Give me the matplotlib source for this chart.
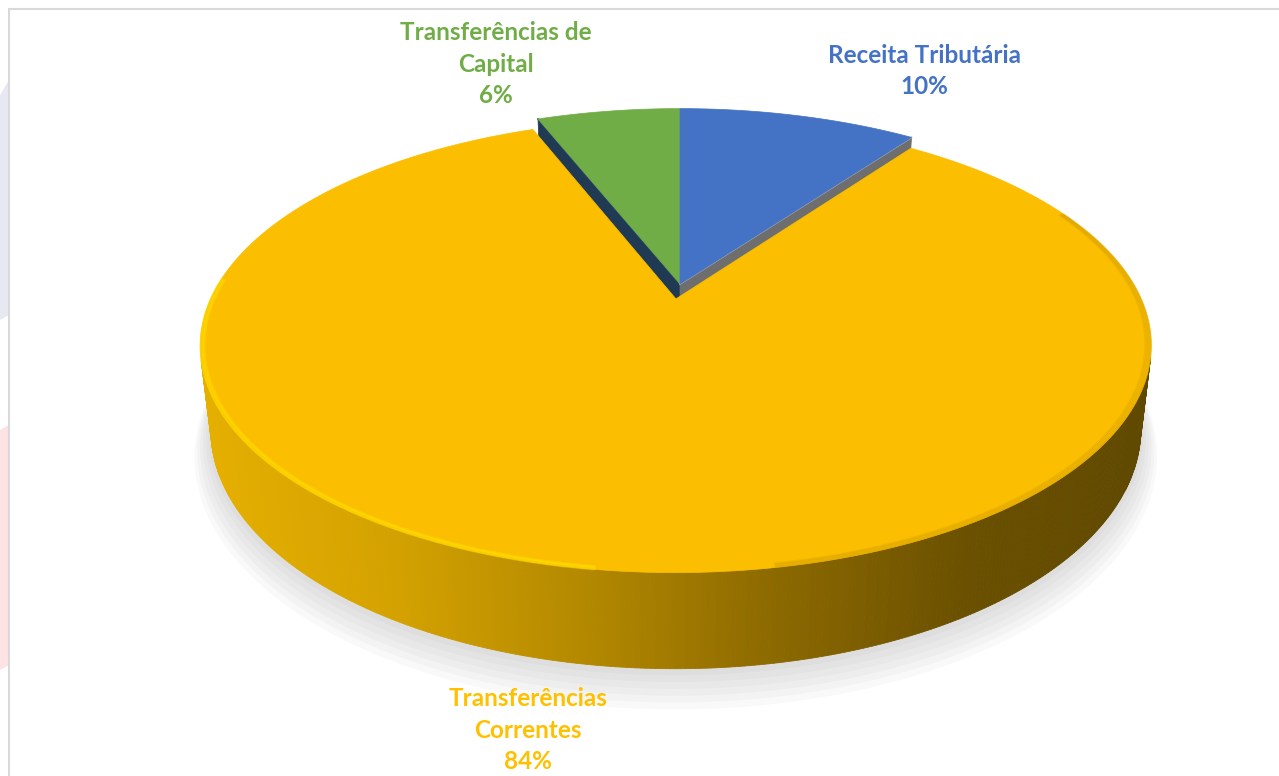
import numpy as np
import matplotlib
matplotlib.use("Agg")
import matplotlib.pyplot as plt
from matplotlib.patches import Polygon, Rectangle
from matplotlib.colors import LinearSegmentedColormap

# dados do gráfico
categorias = ["Receita Tributária", "Transferências Correntes", "Transferências de Capital"]
rotulos = ["Receita Tributária\n10%", "Transferências\nCorrentes\n84%", "Transferências de\nCapital\n6%"]
valores = [10, 84, 6]
cores_topo = ["#4472C4", "#FBBE00", "#70AD47"]
cores_lado = ["#6E6E6E", "#D4A200", "#1F3A52"]
cores_texto = ["#4472C4", "#FFC000", "#70AD47"]
explosao = [0.0, 0.07, 0.0]

# camera (perspectiva simples)
ELEV = np.radians(27.4)
DIST = 4.36
K = 2000.0
CX, CY = 680.0, 284.0
H = 0.205
s, c = np.sin(ELEV), np.cos(ELEV)


def proj(X, Y, Z):
    X, Y, Z = np.broadcast_arrays(np.asarray(X, float), np.asarray(Y, float), np.asarray(Z, float))
    depth = c * Y - s * Z + DIST
    v = s * Y + c * Z
    return np.column_stack([CX + K * X / depth, CY - K * v / depth])


fig = plt.figure(figsize=(12.79, 7.76), dpi=100)
ax = fig.add_axes([0, 0, 1, 1])
ax.set_xlim(0, 1279)
ax.set_ylim(776, 0)
ax.axis("off")

# fundo / moldura
ax.add_patch(Polygon([[0, 95], [9, 80], [9, 315], [0, 320]], color="#E8E8F2", lw=0, zorder=0))
ax.add_patch(Polygon([[0, 430], [9, 425], [9, 665], [0, 670]], color="#FDE3E3", lw=0, zorder=0))
ax.add_patch(Rectangle((9, 9), 1300, 800, fc="white", ec="#D9D9D9", lw=1.5, zorder=0.5))

# angulos (inicio no topo, sentido horario)
total = sum(valores)
fatias = []
inicio = 90.0
for i, v in enumerate(valores):
    fim = inicio - 360.0 * v / total
    t1, t2 = fim, inicio
    mid = np.radians((t1 + t2) / 2)
    ox, oy = explosao[i] * np.cos(mid), explosao[i] * np.sin(mid)
    fatias.append((i, t1, t2, ox, oy))
    inicio = fim

# sombra
for k in range(7):
    r = 1.0 + 0.005 * k
    tt = np.radians(np.linspace(0, 360, 300))
    f = fatias[1]
    pts = proj(f[3] + r * np.cos(tt), f[4] + r * np.sin(tt) - 0.006 * k, -H - 0.006 * k)
    ax.add_patch(Polygon(pts, closed=True, fc="#909090", ec="none", alpha=0.05, zorder=1))

cmap_lado = LinearSegmentedColormap.from_list(
    "lado", ["#E6B000", "#D4A200", "#B48900", "#8C6900", "#6A5000", "#5F4800"])

# ordem de desenho: mais distante primeiro
ordem = sorted(fatias, key=lambda f: -(f[4] + np.sin(np.radians((f[1] + f[2]) / 2))))
for n_ord, (i, t1, t2, ox, oy) in enumerate(ordem):
    z = 2 + n_ord * 3
    # paredes radiais
    for t, sinal in ((t1, -1), (t2, 1)):
        n = np.radians(t + sinal * 90)
        nx, ny = np.cos(n), np.sin(n)
        if nx * ox + ny * (oy + DIST * c) < -1e-6:
            a = np.radians(t)
            quad = proj([ox, ox + np.cos(a), ox + np.cos(a), ox],
                        [oy, oy + np.sin(a), oy + np.sin(a), oy],
                        [0, 0, -H, -H])
            ax.add_patch(Polygon(quad, closed=True, fc=cores_lado[i], ec=cores_lado[i], lw=0.5, zorder=z))
            ax.plot(quad[:2, 0], quad[:2, 1], color="#B0B0B0" if i == 0 else "#2E4F6C", lw=1.2, zorder=z + 0.5)
    # parede externa
    tt = np.radians(np.linspace(t1, t2, int(abs(t2 - t1) * 2) + 2))
    for a0, a1 in zip(tt[:-1], tt[1:]):
        am = (a0 + a1) / 2
        if 1 + ox * np.cos(am) + (oy + DIST * c) * np.sin(am) < 0:
            quad = proj([ox + np.cos(a0), ox + np.cos(a1), ox + np.cos(a1), ox + np.cos(a0)],
                        [oy + np.sin(a0), oy + np.sin(a1), oy + np.sin(a1), oy + np.sin(a0)],
                        [0, 0, -H, -H])
            xm = quad[:, 0].mean()
            cor = cmap_lado(np.clip((xm - 200) / 960, 0, 1))
            ax.add_patch(Polygon(quad, closed=True, fc=cor, ec=cor, lw=0.6, zorder=z + 1))
    # topo
    pts = proj(np.r_[ox, ox + np.cos(tt)], np.r_[oy, oy + np.sin(tt)], 0)
    ax.add_patch(Polygon(pts, closed=True, fc=cores_topo[i], ec=cores_topo[i], lw=0.5, zorder=z + 2))

# brilho / bisel na borda da fatia amarela
f = fatias[1]
for r, lw, al in ((0.997, 3.0, 0.45), (0.992, 2.0, 0.4)):
    tt = np.radians(np.linspace(175, 262, 150))
    pts = proj(f[3] + r * np.cos(tt), f[4] + r * np.sin(tt), 0)
    ax.plot(pts[:, 0], pts[:, 1], color="#FFE200", lw=lw, alpha=al, solid_capstyle="round", zorder=30)
for k in range(5):
    tt = np.radians(np.linspace(-80, 25, 150))
    r = 1.0 - 0.003 * k
    pts = proj(f[3] + r * np.cos(tt), f[4] + r * np.sin(tt), 0)
    ax.plot(pts[:, 0], pts[:, 1], color="#8A6800", lw=1.5, alpha=0.09, zorder=30)

# rotulos
fonte = dict(fontsize=17.5, fontweight="bold", family=["Lato", "DejaVu Sans"],
             ha="center", va="center", linespacing=1.45, zorder=40)
pos_rotulos = [(924, 71), (528, 730), (496, 64)]
for i, (x, y) in enumerate(pos_rotulos):
    ax.text(x, y, rotulos[i], color=cores_texto[i], **fonte)

fig.savefig("out.png", dpi=100)
